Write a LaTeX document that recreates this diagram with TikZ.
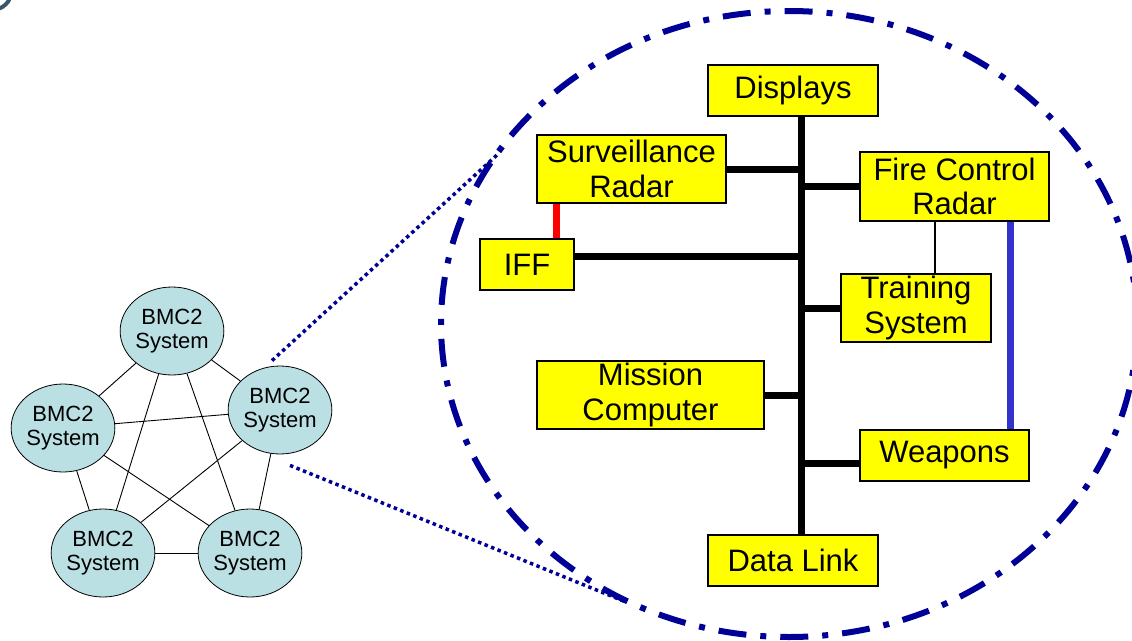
\documentclass[tikz,border=0pt]{standalone}
\usepackage{fontspec}
\setmainfont{Liberation Sans}
\usetikzlibrary{calc,shapes.geometric}
\definecolor{navy}{RGB}{0,0,150}
\definecolor{cyanfill}{RGB}{187,224,228}
\definecolor{redline}{RGB}{255,0,0}
\definecolor{blueline}{RGB}{51,51,204}
\definecolor{slate}{RGB}{60,85,110}
\definecolor{boxyellow}{RGB}{255,255,0}
\begin{document}
\begin{tikzpicture}[x=1pt,y=-1pt,
  sys/.style={ellipse, draw=black, line width=0.8pt, fill=cyanfill, minimum width=98pt, minimum height=88pt, inner sep=0pt, align=center, font=\fontsize{22}{23.5}\selectfont},
  box/.style={draw=black, line width=2pt, fill=boxyellow, inner sep=0pt, align=center, font=\fontsize{31}{34.5}\selectfont},
  bus/.style={line width=7pt, black},
  meshline/.style={line width=0.9pt, black},
  dotline/.style={navy, line width=3.5pt, dash pattern=on 3.5pt off 3.5pt},
  zoomring/.style={navy, line width=6pt, dash pattern=on 28pt off 14pt on 6pt off 14pt}
]
\useasboundingbox (0,0) rectangle (1132,640);
\clip (0,0) rectangle (1132,640);

% corner fragment
\draw[slate, line width=4pt] (-2,9) .. controls (4,7) and (8,3) .. (10,-2);

% zoom ring
\draw[zoomring] (789,324) ellipse [x radius=348pt, y radius=313pt];

% BMC2 network
\node[sys] (T) at (172,331) {BMC2\\System};
\node[sys] (R) at (280,410) {BMC2\\System};
\node[sys] (L) at (63,428) {BMC2\\System};
\node[sys] (BL) at (103,553) {BMC2\\System};
\node[sys] (BR) at (250,553) {BMC2\\System};

\draw[meshline] (T) -- (R);
\draw[meshline] (T) -- (L);
\draw[meshline] (L) -- (BL);
\draw[meshline] (R) -- (BR);
\draw[meshline] (BL) -- (BR);
\draw[meshline] (L) -- (R);
\draw[meshline] (L) -- (BR);
\draw[meshline] (T) -- (BL);
\draw[meshline] (T) -- (BR);
\draw[meshline] (R) -- (BL);

% dotted zoom lines
\coordinate (e1) at (497,155);
\coordinate (e2) at (626,602);
\draw[dotline] ($(R.north)+(-8,-5)$) -- (e1);
\draw[dotline] ($(R.south)+(10,11)$) -- (e2);

% system boxes
\node[box, minimum width=170pt, minimum height=51pt] (disp) at (793,90.5) {Displays};
\node[box, minimum width=189pt, minimum height=68pt] (surv) at (631.5,169) {Surveillance\\Radar};
\node[box, minimum width=94pt, minimum height=51pt] (iff) at (527,264.5) {IFF};
\node[box, minimum width=189pt, minimum height=69pt] (fcr) at (954.5,186.5) {Fire Control\\Radar};
\node[box, minimum width=150pt, minimum height=68pt] (train) at (916,308) {Training\\System};
\node[box, minimum width=227pt, minimum height=68pt] (miss) at (650.5,395) {Mission\\Computer};
\node[box, minimum width=169pt, minimum height=51pt] (weap) at (944.5,455.5) {Weapons};
\node[box, minimum width=170pt, minimum height=51pt] (dl) at (793,560.5) {Data Link};

\coordinate (bx) at (801.5,0);
\coordinate (rx) at (556,0);
\coordinate (tx) at (935,0);
\coordinate (wx) at (1010,0);

% bus
\draw[bus] (disp.south -| bx) -- (dl.north -| bx);
\draw[bus] (surv.east) -- (surv.east -| bx);
\draw[bus] (fcr.west) -- (fcr.west -| bx);
\draw[bus] ($(iff.east)+(0,-8)$) -- ($(iff.east -| bx)+(0,-8)$);
\draw[bus] (train.west) -- (train.west -| bx);
\draw[bus] (miss.east) -- (miss.east -| bx);
\draw[bus] ($(weap.west)+(0,8)$) -- ($(weap.west -| bx)+(0,8)$);

% other links
\draw[redline, line width=7pt] (iff.north -| rx) -- (surv.south -| rx);
\draw[black, line width=1.5pt] (fcr.south -| tx) -- (train.north -| tx);
\draw[blueline, line width=7pt] (fcr.south -| wx) -- (weap.north -| wx);
\end{tikzpicture}
\end{document}
